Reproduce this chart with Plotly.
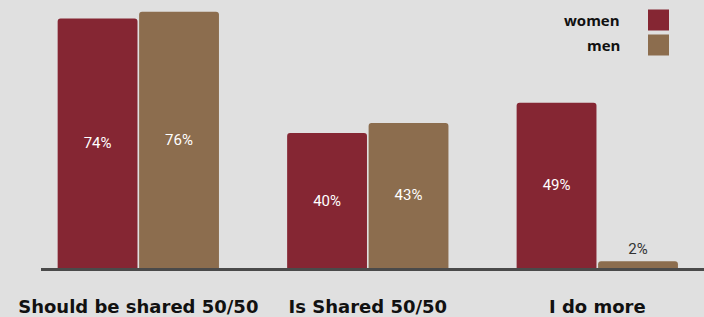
import plotly.graph_objects as go

categories = ["Should be shared 50/50", "Is Shared 50/50", "I do more"]
women = [74, 40, 49]
men = [76, 43, 2]
series_names = ["women", "men"]
colors = ["#852633", "#8c6d4e"]

BG = "#e0e0e0"

def labels(vals):
    return [f"{v}%" for v in vals]

fig = go.Figure()
for name, vals, col in zip(series_names, [women, men], colors):
    fig.add_trace(go.Bar(
        x=categories, y=vals, name=name,
        marker=dict(color=col, line=dict(width=0)),
        text=labels(vals), textposition="auto",
        insidetextanchor="middle",
        insidetextfont=dict(family="Roboto", size=15, color="white"),
        outsidetextfont=dict(family="Roboto", size=15, color="#333333"),
        cliponaxis=False,
        showlegend=False,
        hoverinfo="skip",
    ))

L, R, T, B = 41, 0, 10, 49
W, H = 704, 317

fig.update_layout(
    width=W, height=H,
    paper_bgcolor=BG, plot_bgcolor=BG,
    margin=dict(l=L, r=R, t=T, b=B),
    barmode="group", bargap=0.29, bargroupgap=0.02,
    barcornerradius=3,
    xaxis=dict(
        type="category", range=[-0.424, 2.465],
        showline=True, linecolor="#4a4a4a", linewidth=3,
        showgrid=False, zeroline=False,
        ticks="outside", ticklen=20, tickcolor=BG,
        tickfont=dict(family="DejaVu Sans", size=18, color="#111111", weight="bold"),
    ),
    yaxis=dict(range=[0, 76.5], visible=False, showgrid=False, zeroline=False),
)

plot_w = W - L - R
plot_h = H - T - B
legend_y = [20, 45]
for name, col, yc in zip(series_names, colors, legend_y):
    fig.add_annotation(
        x=(622 - L) / plot_w, y=(H - B - yc) / plot_h,
        xref="x domain", yref="y domain",
        text=f"<b>{name}</b>", showarrow=False, xanchor="right", yanchor="middle",
        font=dict(family="Open Sans", size=15, color="#111111"),
    )
    fig.add_shape(
        type="rect", xref="x domain", yref="y domain",
        x0=(648 - L) / plot_w, x1=(669 - L) / plot_w,
        y0=(H - B - (yc + 10.5)) / plot_h, y1=(H - B - (yc - 10.5)) / plot_h,
        fillcolor=col, line=dict(width=0),
    )

fig.write_html(
    "out.html",
    config={"displayModeBar": False},
    post_script="document.body.style.margin='0';document.body.style.overflow='hidden';",
)
